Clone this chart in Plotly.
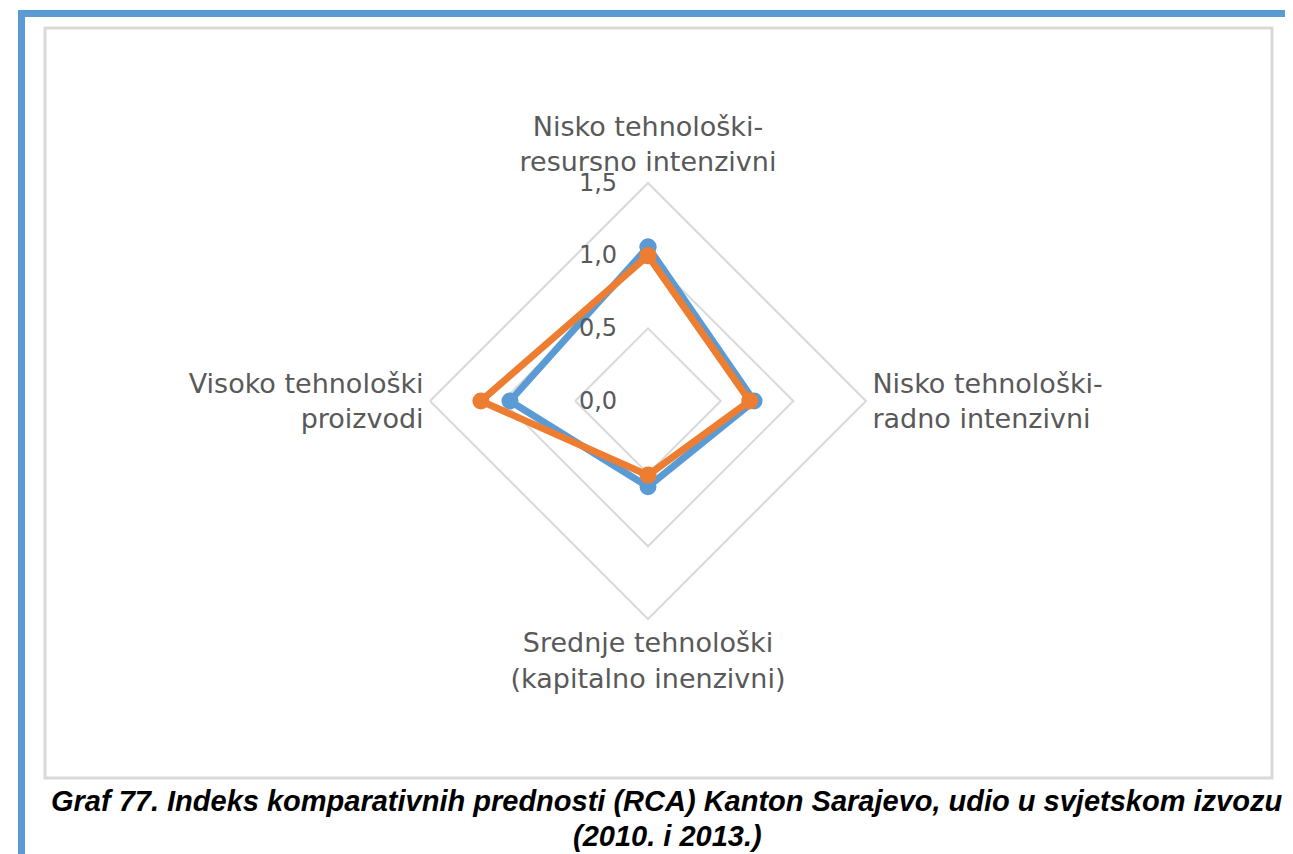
import plotly.graph_objects as go

categories = [
    "Nisko tehnološki-<br>resursno intenzivni",
    "Nisko tehnološki-<br>radno intenzivni",
    "Srednje tehnološki<br>(kapitalno inenzivni)",
    "Visoko tehnološki<br>proizvodi",
]
rca_2010 = [1.06, 0.73, 0.59, 0.95]
rca_2013 = [1.00, 0.70, 0.51, 1.15]
radial_ticks = [0.0, 0.5, 1.0, 1.5]

# page has an 8px body margin, figure starts at (8, 8)
OFF = 8
W, H = 1293 - OFF, 854 - OFF
cx, cy, rad = 648, 401, 218


def px(x):
    return (x - OFF) / W


def py(y):
    return 1 - (y - OFF) / H


fig = go.Figure()
for vals, color, name in [(rca_2010, "#5B9BD5", "2010"), (rca_2013, "#ED7D31", "2013")]:
    fig.add_trace(
        go.Scatterpolar(
            r=vals + vals[:1],
            theta=categories + categories[:1],
            mode="lines+markers",
            name=name,
            line=dict(color=color, width=7),
            marker=dict(color=color, size=17),
        )
    )

fig.update_layout(
    width=W,
    height=H,
    margin=dict(l=0, r=0, t=0, b=0),
    paper_bgcolor="white",
    showlegend=False,
    separators=",.",
    font=dict(family="DejaVu Sans", color="#595959"),
    polar=dict(
        domain=dict(x=[px(cx - rad), px(cx + rad)], y=[py(cy + rad), py(cy - rad)]),
        bgcolor="white",
        gridshape="linear",
        radialaxis=dict(
            range=[0, 1.5],
            tickvals=radial_ticks,
            tickformat=".1f",
            angle=90,
            side="counterclockwise",
            tickangle=90,
            showline=False,
            gridcolor="#D9D9D9",
            gridwidth=2,
            ticks="outside",
            ticklen=22,
            tickcolor="rgba(0,0,0,0)",
            tickfont=dict(size=24, color="#595959"),
        ),
        angularaxis=dict(
            rotation=90,
            direction="clockwise",
            showgrid=False,
            showline=True,
            linecolor="#D9D9D9",
            linewidth=2,
            ticks="",
            tickfont=dict(size=27, color="#595959"),
        ),
    ),
)

# frame: blue page rule and grey chart box
fig.add_shape(type="rect", xref="paper", yref="paper", x0=px(18), x1=px(25), y0=py(854), y1=py(10),
              fillcolor="#5B9BD5", line_width=0)
fig.add_shape(type="rect", xref="paper", yref="paper", x0=px(18), x1=px(1293), y0=py(17), y1=py(10),
              fillcolor="#5B9BD5", line_width=0)
fig.add_shape(type="rect", xref="paper", yref="paper", x0=px(45), x1=px(1272), y0=py(778), y1=py(28),
              line=dict(color="#D9D9D9", width=3))

caption = [
    ("Graf 77. Indeks komparativnih prednosti (RCA) Kanton Sarajevo, udio u svjetskom izvozu", 667, 801),
    ("(2010. i 2013.)", 668, 836),
]
for txt, x, y in caption:
    fig.add_annotation(
        text=f"<b><i>{txt}</i></b>", xref="paper", yref="paper", x=px(x), y=py(y),
        xanchor="center", yanchor="middle",
        showarrow=False, font=dict(family="Liberation Sans", size=29, color="black"),
    )

fig.write_html("out.html")
